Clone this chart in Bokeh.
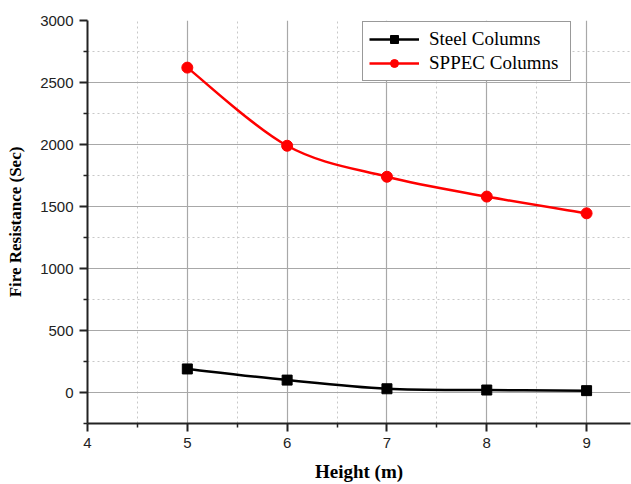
import numpy as np
from bokeh.plotting import figure
from bokeh.models import ColumnDataSource, Legend, LegendItem, Range1d, FixedTicker
from bokeh.embed import file_html
from bokeh.resources import INLINE

heights = [5, 6, 7, 8, 9]
steel = [190, 100, 30, 20, 15]
sppec = [2620, 1990, 1740, 1580, 1445]
x_ticks = [4, 5, 6, 7, 8, 9]
y_ticks = [0, 500, 1000, 1500, 2000, 2500, 3000]


def bezier_source(xs, ys):
    xs = np.asarray(xs, float)
    ys = np.asarray(ys, float)
    n = len(xs)
    d = dict(x0=[], y0=[], x1=[], y1=[], cx0=[], cy0=[], cx1=[], cy1=[])
    for i in range(n - 1):
        im = max(i - 1, 0)
        ip2 = min(i + 2, n - 1)
        d["x0"].append(xs[i]); d["y0"].append(ys[i])
        d["x1"].append(xs[i + 1]); d["y1"].append(ys[i + 1])
        d["cx0"].append(xs[i] + (xs[i + 1] - xs[im]) / 6)
        d["cy0"].append(ys[i] + (ys[i + 1] - ys[im]) / 6)
        d["cx1"].append(xs[i + 1] - (xs[ip2] - xs[i]) / 6)
        d["cy1"].append(ys[i + 1] - (ys[ip2] - ys[i]) / 6)
    return ColumnDataSource(d)


p = figure(width=631, height=484, output_backend="svg", toolbar_location=None,
           x_range=Range1d(4, 9.44), y_range=Range1d(-250, 3000),
           min_border_left=87, min_border_right=1, min_border_top=20, min_border_bottom=61)
p.outline_line_color = None
p.background_fill_color = "white"

for ax in (p.xaxis[0], p.yaxis[0]):
    ax.axis_line_width = 2
    ax.axis_line_color = "#222222"
    ax.major_tick_line_width = 2
    ax.major_tick_line_color = "#222222"
    ax.minor_tick_line_width = 1.5
    ax.minor_tick_line_color = "#222222"
    ax.major_tick_out = 8
    ax.major_tick_in = 0
    ax.minor_tick_out = 4
    ax.minor_tick_in = 0
    ax.major_label_text_font = "Liberation Sans"
    ax.major_label_text_font_size = "15px"
    ax.major_label_text_color = "#222222"
    ax.axis_label_text_font = "Liberation Serif"
    ax.axis_label_text_font_style = "bold"
    ax.axis_label_text_color = "black"

p.xaxis.axis_label_text_font_size = "19px"
p.yaxis.axis_label_text_font_size = "17px"
p.xaxis.ticker = FixedTicker(ticks=x_ticks, minor_ticks=[4.5, 5.5, 6.5, 7.5, 8.5])
p.yaxis.ticker = FixedTicker(ticks=y_ticks, minor_ticks=[-250, 250, 750, 1250, 1750, 2250, 2750])
p.xaxis.axis_label = "Height (m)"
p.yaxis.axis_label = "Fire Resistance (Sec)"
p.xaxis.major_label_standoff = 6
p.yaxis.major_label_standoff = 6
p.xaxis.axis_label_standoff = 10
p.yaxis.axis_label_standoff = 12

for g in (p.xgrid[0], p.ygrid[0]):
    g.grid_line_color = "#a8a8a8"
    g.grid_line_width = 1.2
    g.minor_grid_line_color = "#c8c8c8"
    g.minor_grid_line_dash = "2 3"
    g.minor_grid_line_width = 1

src_steel = bezier_source(heights, steel)
src_sppec = bezier_source(heights, sppec)

p.bezier(x0="x0", y0="y0", x1="x1", y1="y1", cx0="cx0", cy0="cy0", cx1="cx1", cy1="cy1",
         source=src_steel, line_color="black", line_width=2.5)
p.bezier(x0="x0", y0="y0", x1="x1", y1="y1", cx0="cx0", cy0="cy0", cx1="cx1", cy1="cy1",
         source=src_sppec, line_color="red", line_width=2.5)

s1 = p.scatter(heights, steel, marker="square", size=10, color="black")
s2 = p.scatter(heights, sppec, marker="circle", size=11, color="red")

# legend proxies (hidden lines carrying the legend line style)
l1 = p.line(heights, steel, line_color="black", line_width=2.5, visible=False)
l2 = p.line(heights, sppec, line_color="red", line_width=2.5, visible=False)

legend = Legend(items=[LegendItem(label="Steel Columns", renderers=[l1, s1]),
                       LegendItem(label="SPPEC Columns", renderers=[l2, s2])],
                location=(275, 342))
legend.label_text_font = "Liberation Serif"
legend.label_text_font_size = "19px"
legend.label_text_color = "black"
legend.border_line_color = "#333333"
legend.border_line_width = 1
legend.background_fill_color = "white"
legend.background_fill_alpha = 1
legend.glyph_width = 50
legend.glyph_height = 20
legend.label_height = 20
legend.label_width = 135
legend.spacing = 2
legend.padding = 6
legend.margin = 0
legend.label_standoff = 10
legend.inactive_fill_alpha = 0
p.add_layout(legend, "center")

open("out.html", "w").write(file_html(p, INLINE))
